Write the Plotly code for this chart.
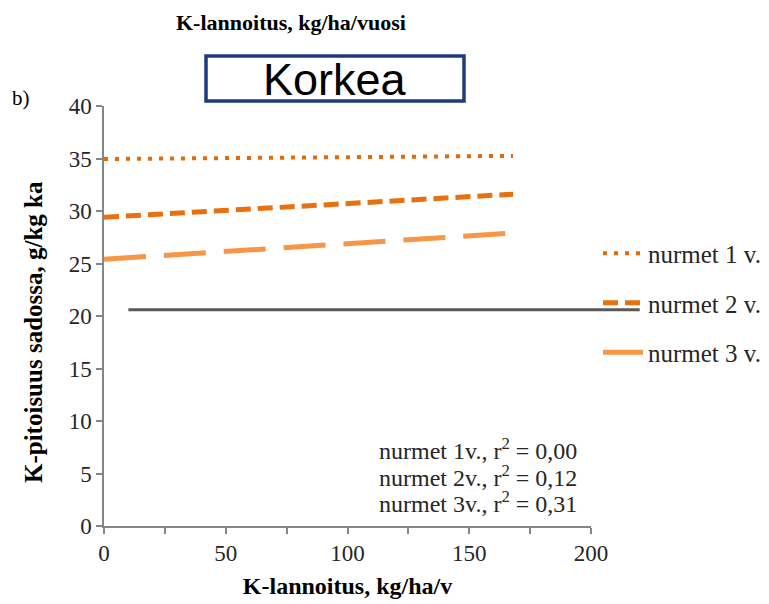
import plotly.graph_objects as go

# data
x_fert = [0, 168]
y_n1 = [34.95, 35.25]
y_n2 = [29.4, 31.6]
y_n3 = [25.4, 27.9]
names = ["nurmet 1 v.", "nurmet 2 v.", "nurmet 3 v."]
ref_x = [10, 220]
ref_y = [20.6, 20.6]
r2_labels = ["nurmet 1v., r<sup>2</sup> = 0,00",
             "nurmet 2v., r<sup>2</sup> = 0,12",
             "nurmet 3v., r<sup>2</sup> = 0,31"]
x_ticks = [0, 50, 100, 150, 200]
y_ticks = [0, 5, 10, 15, 20, 25, 30, 35, 40]
x_range = [0, 200]
y_range = [0, 40]

SERIF = "Liberation Serif"
TXT = "#262626"

fig = go.Figure()
styles = [
    dict(color="#E36C09", width=4, dash="4px,7px"),
    dict(color="#E8700F", width=5, dash="15px,7px"),
    dict(color="#F79646", width=5, dash="42px,18px"),
]
ys = [y_n1, y_n2, y_n3]
for i in range(3):
    fig.add_trace(go.Scatter(x=x_fert, y=ys[i], mode="lines", name=names[i],
                             line=styles[i], legendgroup=f"g{i}"))

# reference line (extends beyond plot area)
span = x_range[1] - x_range[0]
fig.add_shape(type="line", xref="paper", yref="y",
              x0=(ref_x[0] - x_range[0]) / span, x1=(ref_x[1] - x_range[0]) / span,
              y0=ref_y[0], y1=ref_y[1], line=dict(color="#595959", width=3))

fig.update_layout(
    template="none",
    font=dict(family=SERIF, size=23, color=TXT),
    legend=dict(x=(598 - 104) / 487, y=(526 - 303) / 420, xanchor="left", yanchor="middle",
                font=dict(family=SERIF, size=25, color=TXT), bgcolor="rgba(0,0,0,0)",
                itemwidth=40, tracegroupgap=14),
)

for i, t in enumerate(r2_labels):
    fig.add_annotation(text=t, xref="x", yref="y", x=195, y=7.3 - i * 2.5,
                       xanchor="right", yanchor="middle", showarrow=False,
                       font=dict(family=SERIF, size=24, color=TXT))

fig.add_annotation(text="<b>K-lannoitus, kg/ha/vuosi</b>", xref="paper", yref="paper",
                   x=(291 - 104) / 487, y=(526 - 22) / 420, xanchor="center", yanchor="middle",
                   showarrow=False, font=dict(family=SERIF, size=22, color="black"))
fig.add_annotation(text="Korkea", xref="paper", yref="paper",
                   x=(335 - 104) / 487, y=(526 - 79) / 420, xanchor="center", yanchor="middle",
                   showarrow=False, font=dict(family="Liberation Sans", size=45, color="black"))
fig.add_shape(type="rect", xref="paper", yref="paper",
              x0=(206 - 104) / 487, x1=(464 - 104) / 487,
              y0=(526 - 101) / 420, y1=(526 - 56) / 420,
              line=dict(color="#1F3A7E", width=3.5))
fig.add_annotation(text="b)", xref="paper", yref="paper",
                   x=(21 - 104) / 487, y=(526 - 98) / 420, xanchor="center", yanchor="middle",
                   showarrow=False, font=dict(family=SERIF, size=21, color="black"))
fig.add_annotation(text="<b>K-pitoisuus sadossa, g/kg ka</b>", xref="paper", yref="paper",
                   x=(33 - 104) / 487, y=(526 - 332) / 420, xanchor="center", yanchor="middle",
                   textangle=-90, showarrow=False,
                   font=dict(family=SERIF, size=25, color="black"))

fig.update_layout(
    width=769, height=604,
    margin=dict(l=104, r=178, t=106, b=78, autoexpand=False),
    plot_bgcolor="white", paper_bgcolor="white",
    showlegend=True,
    xaxis=dict(range=x_range, tickvals=x_ticks, showgrid=False, zeroline=False,
               showline=True, linecolor="#868686", linewidth=1.5,
               ticks="outside", ticklen=6, tickcolor="#868686", tickwidth=1.5,
               minor=dict(dtick=25, ticks="outside", ticklen=6, tickcolor="#868686",
                          tickwidth=1.5, showgrid=False),
               tickfont=dict(family=SERIF, size=23, color=TXT),
               title=dict(text="<b>K-lannoitus, kg/ha/v</b>", standoff=12,
                          font=dict(family=SERIF, size=24, color="black"))),
    yaxis=dict(range=y_range, tickvals=y_ticks, showgrid=False, zeroline=False,
               showline=True, linecolor="#868686", linewidth=1.5,
               ticks="outside", ticklen=6, tickcolor="#868686", tickwidth=1.5,
               tickfont=dict(family=SERIF, size=23, color=TXT)),
)

fig.write_html("out.html")
